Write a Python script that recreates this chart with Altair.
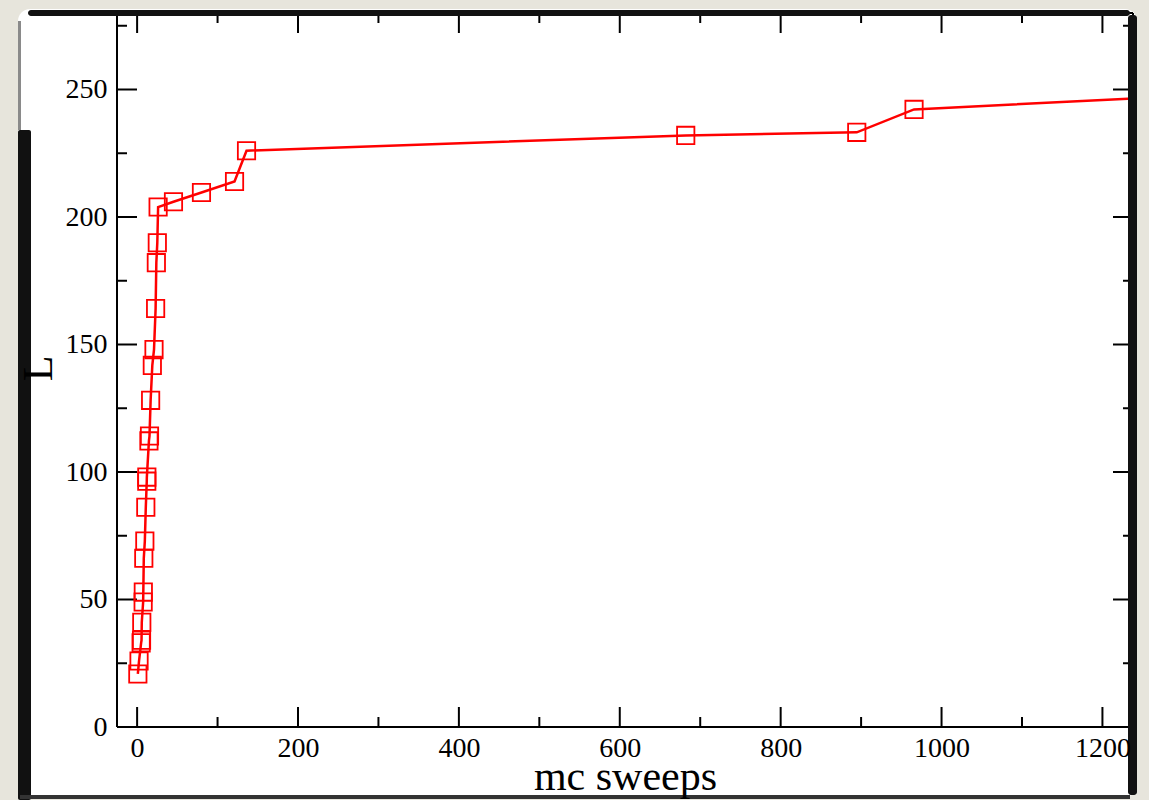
import altair as alt
import pandas as pd

# ---- data ----
sweeps = [0.9, 2.4, 5.0, 5.5, 5.8, 7.5, 7.7, 8.3, 9.6, 10.8, 12.0, 12.1, 14.7, 15.4,
          16.8, 18.9, 21.0, 23.0, 23.9, 25.1, 26.1, 45.2, 80.0, 121.1, 136.0,
          682.0, 894.6, 965.8, 1300.0]
L_vals = [20.8, 25.9, 33.0, 34.0, 41.1, 49.0, 52.9, 66.2, 72.9, 86.2, 96.4, 98.0,
          112.2, 114.1, 128.1, 141.8, 148.0, 164.1, 182.1, 189.9, 203.9, 206.0,
          209.6, 213.9, 226.0, 232.0, 233.2, 242.2, 247.5]

x_major = [0, 200, 400, 600, 800, 1000, 1200]
x_minor = [100, 300, 500, 700, 900, 1100]
y_major = [0, 50, 100, 150, 200, 250]
y_minor = [25, 75, 125, 175, 225, 275]

x_domain = [-25, 1238]
y_domain = [0, 280]

W, H = 1016, 714
FONT = "Liberation Serif"

df = pd.DataFrame({"sweeps": sweeps, "L": L_vals})
one = pd.DataFrame({"k": [0]})

xscale = alt.Scale(domain=x_domain, nice=False, zero=False)
yscale = alt.Scale(domain=y_domain, nice=False, zero=False)

x_enc = alt.X("sweeps:Q", scale=xscale, axis=alt.Axis(
    values=x_major, format="d", title="mc sweeps", domain=False, ticks=False, tickSize=0,
    grid=False, labelFont=FONT, labelFontSize=28, labelColor="black", labelPadding=7,
    labelFlush=False, labelOverlap=False,
    titleFont=FONT, titleFontSize=42, titleFontWeight="normal", titleColor="black",
    titleBaseline="alphabetic", titleY=62, zindex=1))
y_enc = alt.Y("L:Q", scale=yscale, axis=alt.Axis(
    values=y_major, format="d", title="L", domain=False, ticks=False, tickSize=0,
    grid=False, labelFont=FONT, labelFontSize=28, labelColor="black", labelPadding=10,
    labelFlush=False, labelOverlap=False,
    titleFont=FONT, titleFontSize=42, titleFontWeight="normal", titleColor="black",
    titleAngle=270, titleX=-66, titleY=355, titleAlign="center",
    titleBaseline="alphabetic", zindex=1))


def box(x, x2, y, y2, color, radius=0):
    return alt.Chart(one).mark_rect(color=color, cornerRadius=radius).encode(
        x=alt.value(x), x2=alt.value(x2), y=alt.value(y), y2=alt.value(y2))


def line(x, x2, y, y2, width=2, color="black"):
    return alt.Chart(one).mark_rule(color=color, strokeWidth=width).encode(
        x=alt.value(x), x2=alt.value(x2), y=alt.value(y), y2=alt.value(y2))


# paper frame
paper = box(-99, 1020, -4, 784, "white", 12)
top_bar = box(-89, 1013, -3, 3, "#111111", 3)
right_bar = box(1011, 1020, 2, 782, "#111111", 3)
left_bar = box(-99, -86, 117, 787, "#111111", 2)
left_thin = box(-99, -96, 8, 117, "#8a8a8a")
bottom_bar = box(-97, 1013, 782, 786, "#333333")

# axis box lines
frame_lines = (line(0, W, H, H) + line(0, 0, 0, H) + line(0, W, 0, 0) + line(W, W, 0, H))


def xticks(vals, length):
    d = pd.DataFrame({"sweeps": vals})
    bot = alt.Chart(d).mark_rule(color="black", strokeWidth=2).encode(
        x=x_enc, y=alt.value(H), y2=alt.value(H - length))
    top = alt.Chart(d).mark_rule(color="black", strokeWidth=2).encode(
        x=x_enc, y=alt.value(0), y2=alt.value(length))
    return bot + top


def yticks(vals, length):
    d = pd.DataFrame({"L": vals})
    left = alt.Chart(d).mark_rule(color="black", strokeWidth=2).encode(
        y=y_enc, x=alt.value(0), x2=alt.value(length))
    right = alt.Chart(d).mark_rule(color="black", strokeWidth=2).encode(
        y=y_enc, x=alt.value(W), x2=alt.value(W - length))
    return left + right


data_line = alt.Chart(df).mark_line(color="#ff0000", strokeWidth=2.5, clip=True).encode(
    x=x_enc, y=y_enc)
data_pts = alt.Chart(df).mark_point(shape="square", filled=False, size=300, opacity=1,
                                    strokeWidth=1.8, color="#ff0000", clip=True).encode(
    x=x_enc, y=y_enc)

chart = alt.layer(
    paper, left_thin, left_bar, bottom_bar,
    xticks(x_major, 20), xticks(x_minor, 10), yticks(y_major, 20), yticks(y_minor, 10),
    data_line, data_pts,
    frame_lines, top_bar, right_bar,
).properties(
    width=W, height=H,
    autosize=alt.AutoSizeParams(type="none"),
    padding={"left": 117, "top": 13, "right": 16, "bottom": 73},
).configure(background="#e7e5dc").configure_view(strokeWidth=0)

chart.save("out.html", embed_options={"renderer": "svg", "actions": False})
